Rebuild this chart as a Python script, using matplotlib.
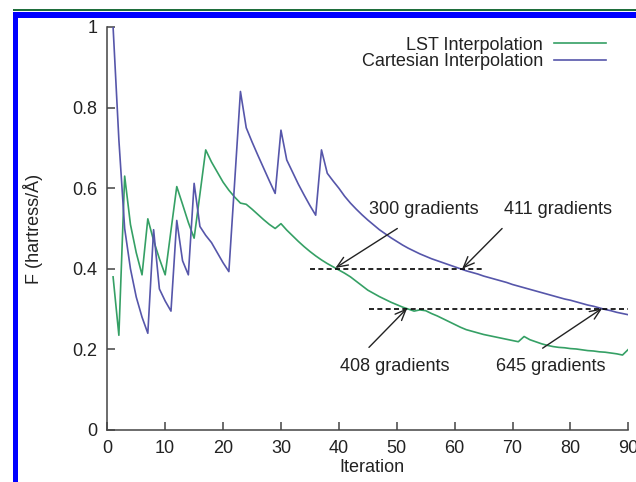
import matplotlib
matplotlib.use('Agg')
import matplotlib.pyplot as plt
from matplotlib.patches import Rectangle
from matplotlib.ticker import FuncFormatter

plt.rcParams['font.family'] = ['Liberation Sans', 'DejaVu Sans']
plt.rcParams['font.size'] = 13

# values (force vs. iteration)
iterations = list(range(1, 91))
lst_force = [
    0.38, 0.235, 0.63, 0.51, 0.44, 0.385, 0.524, 0.47, 0.425, 0.385,
    0.495, 0.604, 0.56, 0.515, 0.476, 0.585, 0.695, 0.665, 0.64, 0.615,
    0.595, 0.578, 0.563, 0.56, 0.548, 0.535, 0.522, 0.51, 0.5, 0.512,
    0.496, 0.482, 0.468, 0.455, 0.443, 0.432, 0.422, 0.413, 0.405, 0.397,
    0.389, 0.38, 0.369, 0.358, 0.347, 0.339, 0.331, 0.324, 0.317, 0.311,
    0.305, 0.3, 0.295, 0.298, 0.296, 0.289, 0.283, 0.276, 0.269, 0.262,
    0.255, 0.249, 0.245, 0.241, 0.237, 0.234, 0.231, 0.228, 0.225, 0.222,
    0.219, 0.232, 0.224, 0.219, 0.214, 0.21, 0.207, 0.205, 0.204, 0.202,
    0.201, 0.199, 0.197, 0.196, 0.194, 0.193, 0.191, 0.189, 0.186, 0.2,
]
cart_force = [
    1.0, 0.72, 0.5, 0.4, 0.33, 0.28, 0.24, 0.497, 0.35, 0.32,
    0.295, 0.52, 0.42, 0.385, 0.612, 0.505, 0.483, 0.465, 0.44, 0.415,
    0.393, 0.615, 0.84, 0.75, 0.715, 0.682, 0.65, 0.618, 0.587, 0.744,
    0.67, 0.64, 0.61, 0.583, 0.557, 0.533, 0.695, 0.637, 0.618, 0.6,
    0.58, 0.563, 0.548, 0.534, 0.521, 0.509, 0.497, 0.487, 0.477, 0.468,
    0.459, 0.451, 0.444, 0.437, 0.431, 0.425, 0.42, 0.415, 0.41, 0.405,
    0.4, 0.395, 0.391, 0.387, 0.382, 0.378, 0.374, 0.37, 0.366, 0.361,
    0.357, 0.353, 0.349, 0.345, 0.341, 0.337, 0.333, 0.329, 0.325, 0.322,
    0.318, 0.314, 0.31, 0.307, 0.303, 0.299, 0.296, 0.292, 0.289, 0.286,
]

# threshold guide lines: level, x start, x end
thresholds = [0.4, 0.3]
threshold_start = [35.1, 45.2]
threshold_end = [65.0, 90.0]

# annotations: label, label position, arrow tail, arrow head
labels = ['300 gradients', '411 gradients', '408 gradients', '645 gradients']
label_pos = [(54.7, 0.548), (77.8, 0.548), (49.6, 0.157), (76.6, 0.157)]
arrow_tail = [(50.1, 0.50), (68.2, 0.50), (45.2, 0.205), (75.2, 0.203)]
arrow_head = [(39.4, 0.402), (61.3, 0.40), (51.8, 0.302), (85.5, 0.302)]

green = '#35a065'
blue = '#5656aa'
ink = '#222222'

fig = plt.figure(figsize=(6.36, 4.82), dpi=100)
ax = fig.add_axes([0.1687, 0.1079, 0.8192, 0.8361])

ax.plot(iterations, lst_force, color=green, lw=1.2, label='LST Interpolation')
ax.plot(iterations, cart_force, color=blue, lw=1.2, label='Cartesian Interpolation')

for lvl, x0, x1 in zip(thresholds, threshold_start, threshold_end):
    ax.plot([x0, x1], [lvl, lvl], color='black', lw=1.2, linestyle=(0, (3, 2)))

for text, pos, tail, head in zip(labels, label_pos, arrow_tail, arrow_head):
    ax.text(pos[0], pos[1], text, ha='center', va='center', color=ink)
    ax.annotate('', xy=head, xytext=tail,
                arrowprops=dict(arrowstyle='->,head_length=0.6,head_width=0.25',
                                color='#222222', lw=1.0, shrinkA=0, shrinkB=0))

ax.set_xlim(0, 90)
ax.set_ylim(0, 1)
ax.set_xticks(range(0, 91, 10))
ax.set_yticks([0, 0.2, 0.4, 0.6, 0.8, 1.0])
ax.yaxis.set_major_formatter(FuncFormatter(lambda v, p: '%g' % v))
ax.tick_params(direction='in', length=6, width=1.1, colors='#444444',
               labelcolor=ink, pad=7)
for side in ['top', 'right']:
    ax.spines[side].set_visible(False)
for side in ['left', 'bottom']:
    ax.spines[side].set_color('#444444')
    ax.spines[side].set_linewidth(1.1)

ax.set_xlabel('Iteration', color=ink, va='center')
ax.xaxis.set_label_coords(0.5075, -0.093)
ax.set_ylabel('F (hartress/Å)', color=ink, va='center')
ax.yaxis.set_label_coords(-0.1426, 0.5)

ax.legend(loc='upper right', bbox_to_anchor=(606 / 636, 1 - 36.5 / 482),
          bbox_transform=fig.transFigure, frameon=False, markerfirst=False,
          borderpad=0, borderaxespad=0, handlelength=2.9, handletextpad=0.6,
          labelspacing=0.0, labelcolor=ink)

# page frame bits from the source screenshot
fig.add_artist(Rectangle((12.7 / 636, 1 - 11 / 482), 1, 1.7 / 482,
                         transform=fig.transFigure, color='#1f6e3c', lw=0))
fig.add_artist(Rectangle((13.3 / 636, 1 - 17.7 / 482), 1, 5.4 / 482,
                         transform=fig.transFigure, color='#0000ff', lw=0))
fig.add_artist(Rectangle((13.3 / 636, 0), 5 / 636, 1 - 12.3 / 482,
                         transform=fig.transFigure, color='#0000ff', lw=0))

fig.savefig('out.png', dpi=100)
